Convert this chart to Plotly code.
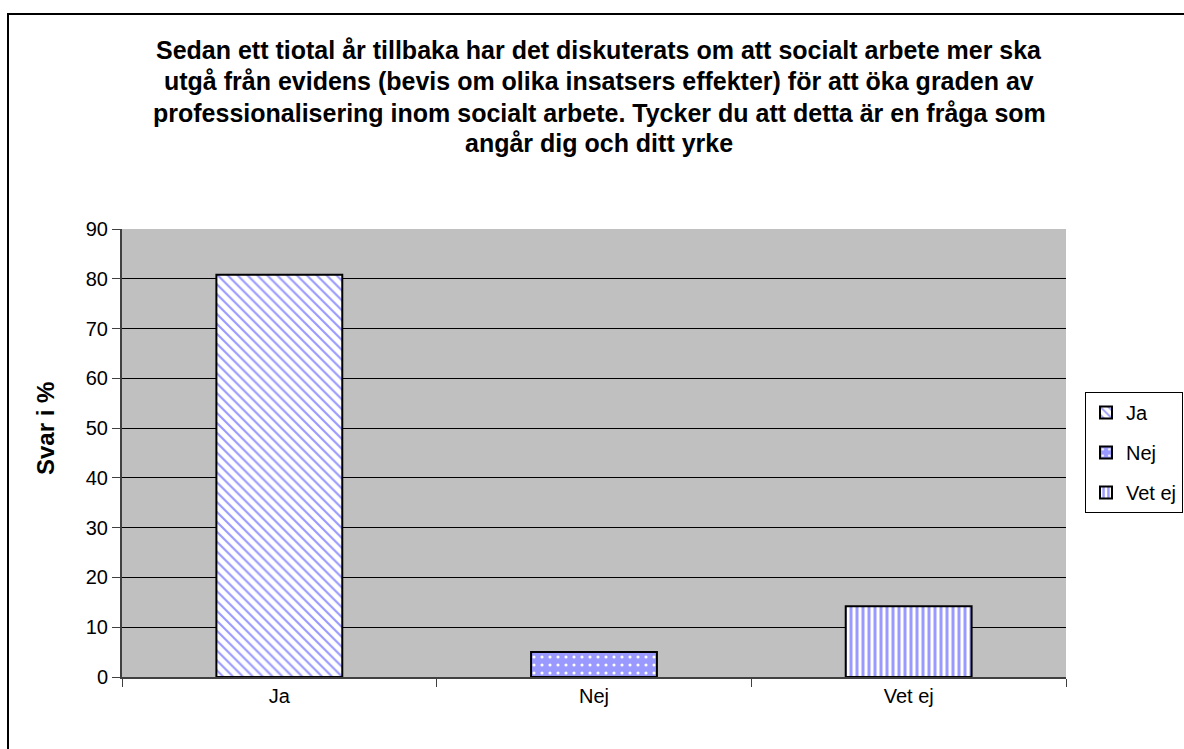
import plotly.graph_objects as go

categories = ["Ja", "Nej", "Vet ej"]
values = [80.8, 5.0, 14.2]
patterns = ["\\", ".", "|"]
fg_colors = ["#9999FF", "#FFFFFF", "#9999FF"]
bg_colors = ["#FFFFFF", "#9999FF", "#FFFFFF"]
pat_sizes = [7, 8, 6]
pat_solid = [0.3, 0.12, 0.5]
title_lines = [
    "Sedan ett tiotal år tillbaka har det diskuterats om att socialt arbete mer ska",
    "utgå från evidens (bevis om olika insatsers effekter) för att öka graden av",
    "professionalisering inom socialt arbete. Tycker du att detta är en fråga som",
    "angår dig och ditt yrke",
]
y_title = "Svar i %"
y_ticks = list(range(0, 91, 10))

FONT = "Liberation Sans, Arial, sans-serif"

fig = go.Figure()
for cat, val, pat, fg, bg, ps, so in zip(categories, values, patterns, fg_colors, bg_colors, pat_sizes, pat_solid):
    fig.add_trace(go.Bar(
        x=[cat], y=[val], name=cat, legendgroup=cat,
        marker=dict(
            color=bg,
            line=dict(color="black", width=2),
            pattern=dict(shape=pat, fgcolor=fg, bgcolor=bg, size=ps, solidity=so, fillmode="replace"),
        ),
        width=0.4,
    ))

annotations = []
line_y = [50, 81, 113, 143]
for txt, yy in zip(title_lines, line_y):
    annotations.append(dict(
        text="<b>" + txt + "</b>", xref="paper", yref="paper",
        x=(599 - 122) / 944, y=(677 - yy) / 448,
        showarrow=False, xanchor="center", yanchor="middle",
        font=dict(family=FONT, size=25, color="black"),
    ))
annotations.append(dict(
    text="<b>" + y_title + "</b>", xref="paper", yref="paper",
    x=(45 - 122) / 944, y=(677 - 429) / 448, textangle=-90,
    showarrow=False, xanchor="center", yanchor="middle",
    font=dict(family=FONT, size=24, color="black"),
))

fig.update_layout(
    width=1184, height=749,
    margin=dict(l=122, r=118, t=229, b=72, autoexpand=False),
    paper_bgcolor="white",
    plot_bgcolor="#C0C0C0",
    barmode="overlay",
    font=dict(family=FONT, size=20, color="black"),
    annotations=annotations,
    showlegend=True,
    legend=dict(
        x=(1085 - 122) / 944, y=(677 - 392) / 448, xanchor="left", yanchor="top",
        bordercolor="black", borderwidth=1, bgcolor="white",
        font=dict(family=FONT, size=20), itemsizing="constant",
        tracegroupgap=11, itemwidth=30,
    ),
    xaxis=dict(
        categoryorder="array", categoryarray=categories,
        showline=True, linecolor="#404040", linewidth=2,
        ticks="outside", tickson="boundaries", ticklen=8, tickcolor="#404040",
        showgrid=False, tickfont=dict(size=20),
    ),
    yaxis=dict(
        range=[0, 90], tickvals=y_ticks, showline=True, linecolor="#404040", linewidth=2,
        ticks="outside", ticklen=8, tickcolor="#404040",
        showgrid=True, gridcolor="black", gridwidth=1,
        zeroline=False, tickfont=dict(size=20),
    ),
    shapes=[dict(
        type="rect", xref="paper", yref="paper",
        x0=(8 - 122) / 944, x1=1.3, y0=-0.5, y1=(677 - 14) / 448,
        line=dict(color="black", width=2), fillcolor="rgba(0,0,0,0)", layer="above",
    )],
)

fig.write_html(
    "out.html",
    config={"displayModeBar": False},
    post_script="document.body.style.margin='0';document.body.style.overflow='hidden';",
)
